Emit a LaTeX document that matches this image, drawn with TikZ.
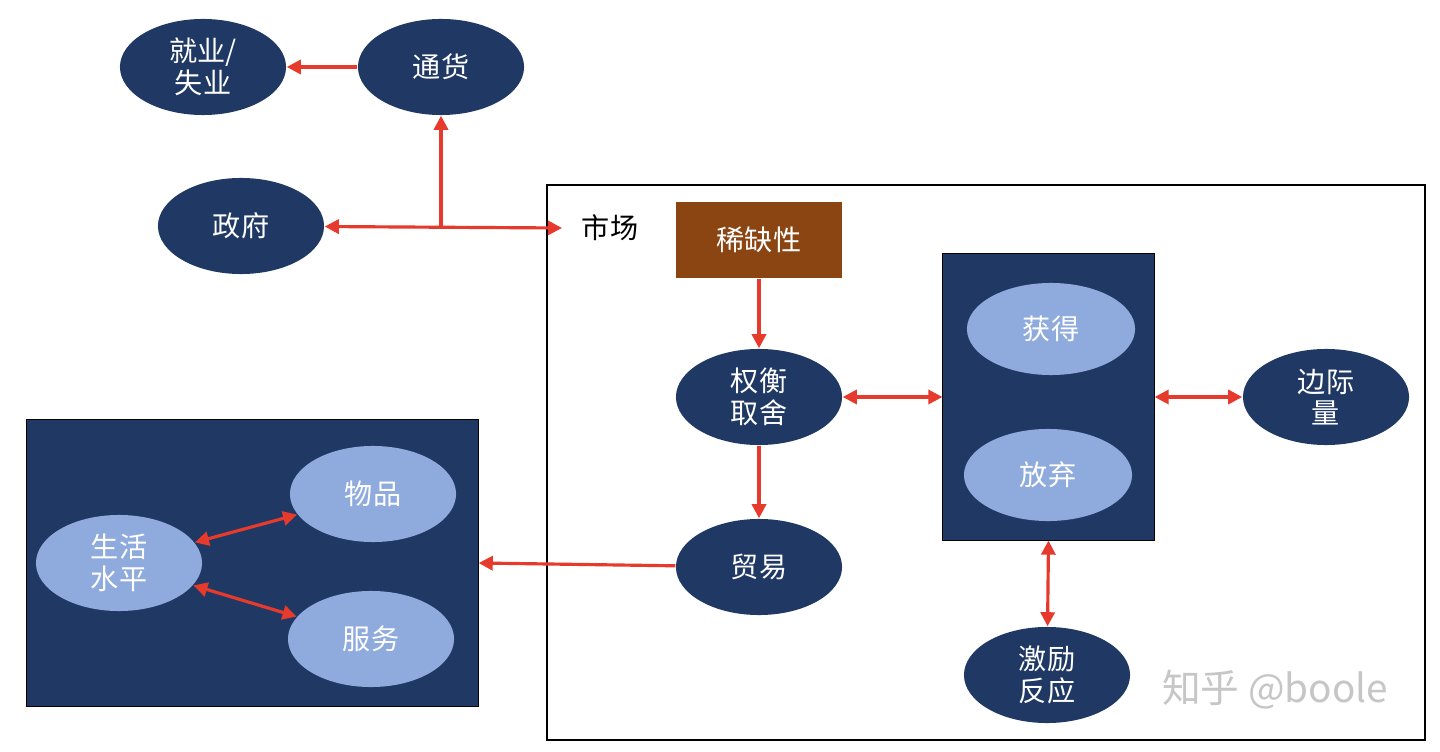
\documentclass[tikz,border=0pt]{standalone}
\usepackage{fontspec}
\setmainfont{Noto Sans CJK SC}
\usetikzlibrary{shapes.geometric,arrows.meta}
\definecolor{navy}{HTML}{203864}
\definecolor{lite}{HTML}{8FAADC}
\definecolor{brn}{HTML}{8B4513}
\definecolor{arr}{HTML}{E53A2C}
\begin{document}
\begin{tikzpicture}[x=0.01cm,y=-0.01cm,
 el/.style={ellipse,fill=navy,minimum width=1.66cm,minimum height=0.96cm,text=white,font=\fontsize{8}{9}\selectfont,align=center,inner sep=0pt},
 le/.style={el,fill=lite},
 ar/.style={draw=arr,line width=0.9pt,-{Triangle[length=4pt,width=4pt]}},
 dr/.style={ar,{Triangle[length=4pt,width=4pt]}-{Triangle[length=4pt,width=4pt]}}]
\useasboundingbox (0,0) rectangle (1440,752);
\fill[white] (0,0) rectangle (1440,752);
\node[draw=black,line width=0.6pt,fill=white,minimum width=8.78cm,minimum height=5.55cm,inner sep=0pt] (mkt) at (986,462.5) {};
\node[fill=navy,draw=black,line width=0.3pt,minimum width=4.51cm,minimum height=2.86cm,inner sep=0pt] (box) at (252.5,563) {};
\node[fill=navy,draw=black,line width=0.3pt,minimum width=2.11cm,minimum height=2.86cm,inner sep=0pt] (mid) at (1048.5,397) {};
\node[el] (job) at (203,67) {就业/\\失业};
\node[el] (cur) at (441,67) {通货};
\node[el] (gov) at (241,226) {政府};
\node[font=\fontsize{8}{9}\selectfont] (mlab) at (610,228) {市场};
\node[fill=brn,minimum width=1.66cm,minimum height=0.76cm,text=white,font=\fontsize{8}{9}\selectfont] (sc) at (759,240) {稀缺性};
\node[el] (tr) at (759,397) {权衡\\取舍};
\node[el] (trade) at (759,567) {贸易};
\node[le,minimum width=1.68cm,minimum height=0.92cm] (get) at (1051,329) {获得};
\node[le,minimum width=1.68cm,minimum height=0.92cm] (give) at (1048,475) {放弃};
\node[el] (marg) at (1326,397) {边际\\量};
\node[el] (inc) at (1047,675) {激励\\反应};
\node[le] (life) at (119,563) {生活\\水平};
\node[le] (goods) at (373,494) {物品};
\node[le] (serv) at (371,639) {服务};
\node[text=gray!45,font=\fontsize{11}{12}\selectfont] (wm) at (1275,690) {知乎 @boole};
\coordinate (jn) at (441,228);
\coordinate (me) at (562,228);
\draw[ar] (cur) -- (job);
\draw[ar] (jn) -- (cur);
\draw[dr] (gov) -- (me);
\draw[ar] (sc) -- (tr);
\draw[ar] (tr) -- (trade);
\draw[dr] (tr) -- (mid);
\draw[dr] (mid.east |- marg) -- (marg);
\draw[dr] (mid.south) -- (inc);
\draw[ar] (trade) -- (box.east |- 0,563);
\draw[dr] (life) -- (goods);
\draw[dr] (life) -- (serv);
\end{tikzpicture}
\end{document}
